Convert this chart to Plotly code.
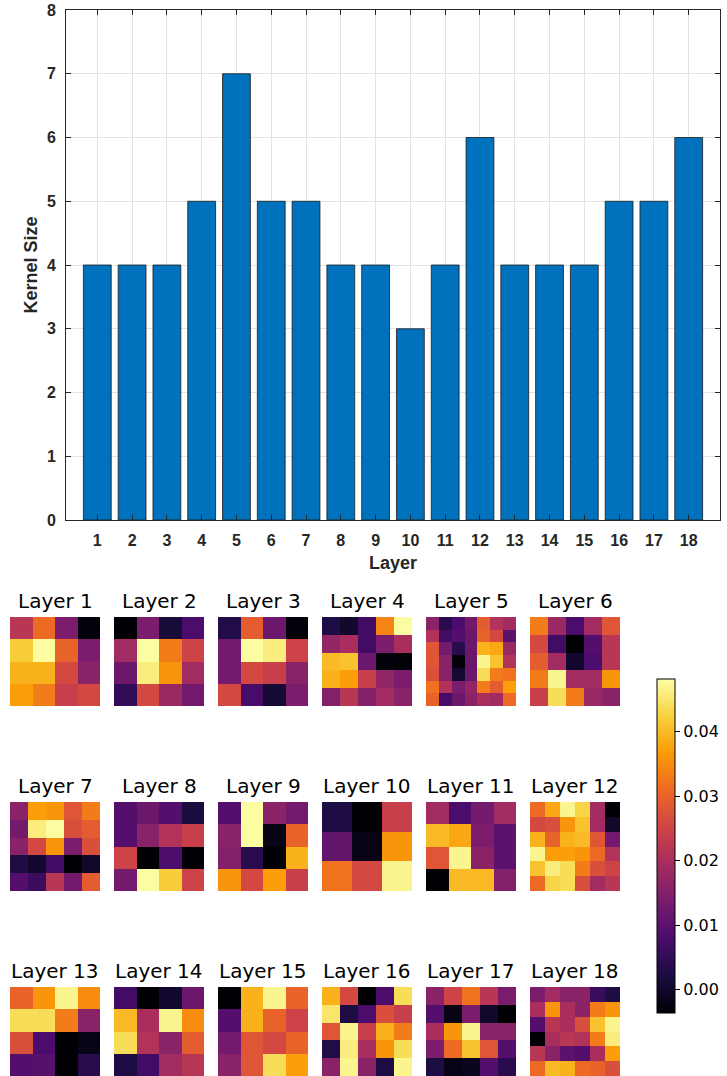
import plotly.graph_objects as go

W, H = 727, 1076

layers = list(range(1, 19))
kernel_sizes = [4, 4, 4, 5, 7, 5, 5, 4, 4, 3, 4, 6, 4, 4, 4, 5, 5, 6]

k1 = [[0.022, 0.031, 0.014, -0.003],
      [0.042, 0.048, 0.030, 0.014],
      [0.039, 0.039, 0.026, 0.016],
      [0.037, 0.033, 0.024, 0.026]]
k2 = [[-0.0035, 0.014, 0.0015, 0.008],
      [0.019, 0.048, 0.033, 0.025],
      [0.012, 0.046, 0.036, 0.019],
      [0.005, 0.026, 0.018, 0.013]]
k3 = [[0.003, 0.029, 0.012, -0.003],
      [0.013, 0.048, 0.046, 0.025],
      [0.013, 0.026, 0.024, 0.016],
      [0.026, 0.0075, 0.001, 0.014]]
k4 = [[0.0025, 0.0005, 0.007, 0.034, 0.048],
      [0.017, 0.020, 0.007, 0.014, 0.020],
      [0.040, 0.041, 0.012, -0.003, -0.0032],
      [0.039, 0.037, 0.024, 0.017, 0.014],
      [0.015, 0.022, 0.015, 0.019, 0.016]]
k5 = [[0.016, 0.004, 0.008, 0.013, 0.029, 0.021, 0.019],
      [0.021, 0.007, 0.009, 0.012, 0.030, 0.026, 0.010],
      [0.028, 0.013, 0.004, 0.012, 0.039, 0.038, 0.018],
      [0.028, 0.016, -0.003, 0.012, 0.047, 0.041, 0.021],
      [0.027, 0.016, 0.0008, 0.012, 0.044, 0.033, 0.032],
      [0.032, 0.021, 0.014, 0.017, 0.033, 0.029, 0.037],
      [0.030, 0.0075, 0.012, 0.016, 0.020, 0.019, 0.031]]
k6 = [[0.033, 0.018, 0.008, 0.019, 0.028],
      [0.026, 0.007, -0.0035, 0.009, 0.022],
      [0.029, 0.019, 0.0003, 0.008, 0.022],
      [0.033, 0.047, 0.019, 0.019, 0.036],
      [0.024, 0.044, 0.033, 0.018, 0.016]]
k7 = [[0.016, 0.037, 0.036, 0.028, 0.033],
      [0.013, 0.046, 0.048, 0.027, 0.029],
      [0.016, 0.026, 0.036, 0.014, 0.027],
      [0.0025, 0.0005, 0.007, -0.0035, 0.0],
      [0.009, 0.006, 0.022, 0.013, 0.029]]
k8 = [[0.009, 0.012, 0.009, 0.002],
      [0.009, 0.016, 0.021, 0.024],
      [0.025, -0.0035, 0.008, -0.0035],
      [0.013, 0.048, 0.042, 0.025]]
k9 = [[0.009, 0.048, 0.016, 0.013],
      [0.016, 0.048, -0.002, 0.030],
      [0.015, 0.004, -0.0035, 0.039],
      [0.036, 0.026, 0.037, 0.024]]
k10 = [[0.0025, -0.0035, 0.024],
       [0.011, -0.002, 0.036],
       [0.032, 0.026, 0.047]]
k11 = [[0.019, 0.008, 0.013, 0.019],
       [0.040, 0.038, 0.014, 0.010],
       [0.028, 0.047, 0.016, 0.010],
       [-0.0035, 0.040, 0.040, 0.015]]
k12 = [[0.031, 0.038, 0.047, 0.043, 0.019, -0.0035],
       [0.026, 0.027, 0.036, 0.041, 0.019, 0.0],
       [0.039, 0.030, 0.039, 0.040, 0.028, 0.013],
       [0.047, 0.037, 0.037, 0.036, 0.031, 0.021],
       [0.041, 0.046, 0.044, 0.033, 0.027, 0.025],
       [0.031, 0.043, 0.044, 0.027, 0.019, 0.022]]
k13 = [[0.030, 0.036, 0.047, 0.035],
       [0.044, 0.044, 0.033, 0.016],
       [0.027, 0.008, -0.0035, -0.002],
       [0.009, 0.0095, -0.0035, 0.004]]
k14 = [[0.007, -0.0035, 0.0005, 0.012],
       [0.040, 0.020, 0.047, 0.035],
       [0.044, 0.021, 0.016, 0.029],
       [0.0025, 0.007, 0.019, 0.022]]
k15 = [[-0.0035, 0.039, 0.047, 0.030],
       [0.009, 0.039, 0.030, 0.025],
       [0.013, 0.028, 0.026, 0.030],
       [0.016, 0.028, 0.044, 0.037]]
k16 = [[0.039, 0.026, -0.0035, 0.008, 0.044],
       [0.045, 0.0025, 0.008, 0.027, 0.024],
       [0.028, 0.047, 0.024, 0.039, 0.033],
       [0.003, 0.046, 0.020, 0.036, 0.044],
       [0.016, 0.047, 0.016, 0.0025, 0.047]]
k17 = [[0.016, 0.025, 0.032, 0.022, 0.014],
       [0.009, -0.002, 0.014, 0.0, -0.0035],
       [0.020, 0.036, 0.047, 0.016, 0.016],
       [0.014, 0.031, 0.041, 0.028, 0.009],
       [0.0025, -0.002, -0.001, 0.009, 0.004]]
k18 = [[0.014, 0.019, 0.016, 0.016, 0.006, 0.0025],
       [0.020, 0.036, 0.020, 0.016, 0.033, 0.036],
       [0.009, 0.022, 0.020, 0.027, 0.041, 0.047],
       [-0.0035, 0.020, 0.022, 0.021, 0.033, 0.046],
       [0.022, 0.016, 0.010, 0.009, 0.020, 0.037],
       [0.031, 0.040, 0.039, 0.031, 0.030, 0.027]]

kernels = [k1, k2, k3, k4, k5, k6, k7, k8, k9, k10, k11, k12, k13, k14, k15, k16, k17, k18]
titles = [f"Layer {n}" for n in layers]

cbar_ticks = [0.0, 0.01, 0.02, 0.03, 0.04]
cbar_ticktext = ["0.00", "0.01", "0.02", "0.03", "0.04"]
cmin, cmax = -0.0036, 0.0482


def fx(px):
    return px / W


def fy(px):
    return 1 - px / H


fig = go.Figure()

fig.add_trace(go.Bar(
    x=layers, y=kernel_sizes, width=0.8,
    marker=dict(color="#0072BD", line=dict(color="#1a1a1a", width=0.8)),
    xaxis="x", yaxis="y", showlegend=False,
))

bold = dict(family="Liberation Sans, Arial, sans-serif", size=16, color="#262626", weight="bold")
layout = dict(
    width=W, height=H,
    margin=dict(l=0, r=0, t=0, b=0, pad=0, autoexpand=False),
    paper_bgcolor="white", plot_bgcolor="white",
    showlegend=False,
    xaxis=dict(
        domain=[fx(66), fx(720)], range=[0.1, 18.9],
        tickmode="array", tickvals=layers, ticktext=[str(n) for n in layers],
        ticks="inside", ticklen=5, tickcolor="#262626", tickwidth=0.8,
        showline=True, linecolor="#262626", linewidth=0.8, mirror="allticks",
        showgrid=True, gridcolor="#e3e3e3", gridwidth=0.8, zeroline=False,
        tickfont=bold, ticklabelstandoff=6, automargin=False,
        title=dict(text="Layer", font=dict(bold, size=18), standoff=8),
        anchor="y",
    ),
    yaxis=dict(
        domain=[fy(520), fy(10)], range=[0, 8], dtick=1,
        ticks="inside", ticklen=5, tickcolor="#262626", tickwidth=0.8,
        showline=True, linecolor="#262626", linewidth=0.8, mirror="allticks",
        showgrid=True, gridcolor="#e3e3e3", gridwidth=0.8, zeroline=False,
        tickfont=bold, ticklabelstandoff=6, automargin=False,
        title=dict(text="Kernel Size", font=dict(bold, size=18), standoff=4),
        anchor="x",
    ),
    coloraxis=dict(
        colorscale="Inferno", cmin=cmin, cmax=cmax,
        colorbar=dict(
            x=fx(657), xanchor="left", xpad=0,
            y=fy(846), yanchor="middle", ypad=0,
            lenmode="pixels", len=334, thickness=18,
            outlinecolor="black", outlinewidth=1,
            tickmode="array", tickvals=cbar_ticks, ticktext=cbar_ticktext,
            ticks="outside", ticklen=5, tickcolor="black",
            tickfont=dict(family="DejaVu Sans", size=16, color="black"),
        ),
    ),
    annotations=[],
)

col_x = [10, 114, 218, 322, 426, 530]
row_y = [617, 802, 987]
for i, (kern, title) in enumerate(zip(kernels, titles)):
    r, c = divmod(i, 6)
    n = len(kern)
    ax = i + 2
    x0, y0 = col_x[c], row_y[r]
    fig.add_trace(go.Heatmap(
        z=kern, x=list(range(n)), y=list(range(n)),
        coloraxis="coloraxis",
        xaxis=f"x{ax}", yaxis=f"y{ax}",
    ))
    layout[f"xaxis{ax}"] = dict(
        domain=[fx(x0), fx(x0 + 90)], range=[-0.5, n - 0.5],
        visible=False, anchor=f"y{ax}",
    )
    layout[f"yaxis{ax}"] = dict(
        domain=[max(0, fy(y0 + 89)), fy(y0)], range=[n - 0.5, -0.5],
        visible=False, anchor=f"x{ax}",
    )
    layout["annotations"].append(dict(
        text=title, x=fx(x0 + 45), y=fy(y0 - 16), xref="paper", yref="paper",
        xanchor="center", yanchor="middle", showarrow=False,
        font=dict(family="DejaVu Sans", size=20, color="black"),
    ))

fig.update_layout(**layout)
fig.write_html("out.html")
